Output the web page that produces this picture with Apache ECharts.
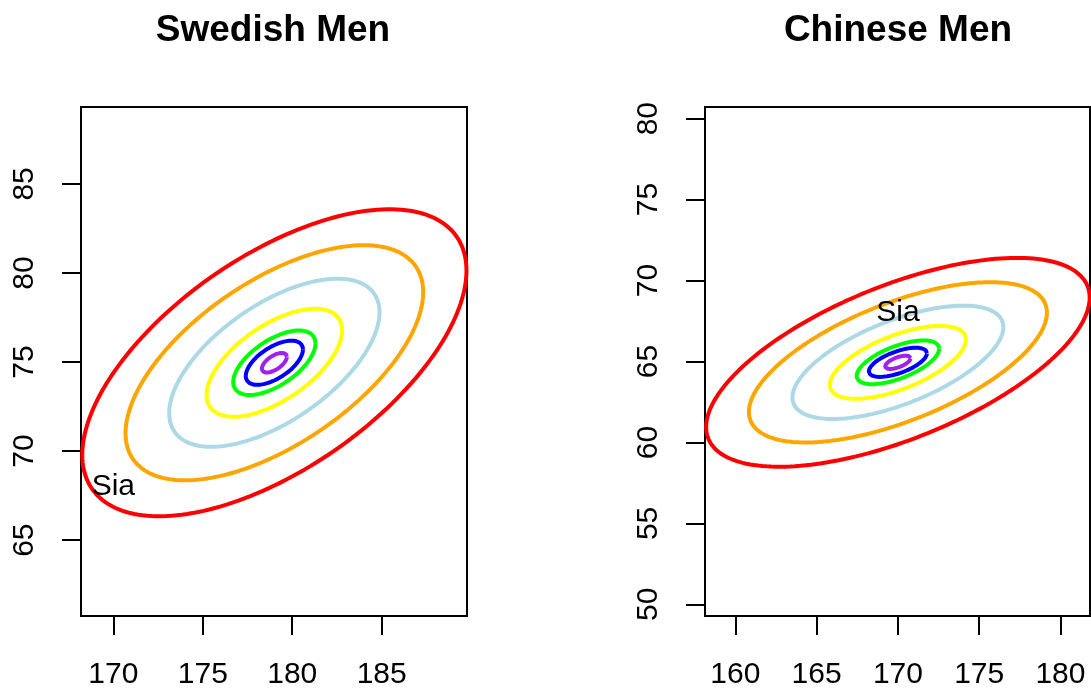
<!DOCTYPE html>
<html><head><meta charset="utf-8">
<script src="https://cdn.jsdelivr.net/npm/echarts@6/dist/echarts.min.js"></script>
<style>html,body{margin:0;padding:0;background:#fff}#c{width:1091px;height:690px}</style>
</head><body><div id="c"></div><script>
// ---- data ----
const panelTitles = ['Swedish Men', 'Chinese Men'];
const contourColors = ['#FF0000', '#FFA500', '#ADD8E6', '#FFFF00', '#00FF00', '#0000FF', '#A020F0'];

// Swedish men: centre (height, weight), half-extents of each contour, correlation
const swedishCentre = [179.0, 74.96];
const swedishHalfX = [10.74, 8.32, 5.88, 3.79, 2.30, 1.60, 0.70];
const swedishHalfY = [8.62, 6.60, 4.72, 3.03, 1.81, 1.24, 0.55];
const swedishRho = 0.6;

// Chinese men
const chineseCentre = [170.0, 64.95];
const chineseHalfX = [11.8, 9.17, 6.49, 4.19, 2.54, 1.79, 0.79];
const chineseHalfY = [6.45, 4.95, 3.50, 2.25, 1.35, 0.90, 0.41];
const chineseRho = 0.62;

// annotation
const labelText = 'Sia';
const swedishLabelPos = [170, 68];
const chineseLabelPos = [170, 68];

// axis ranges and ticks
const swedishXRange = [168.19, 189.77];
const swedishYRange = [60.74, 89.32];
const chineseXRange = [158.13, 181.82];
const chineseYRange = [49.28, 80.72];
const swedishXTicks = [170, 175, 180, 185];
const swedishYTicks = [65, 70, 75, 80, 85];
const chineseXTicks = [160, 165, 170, 175, 180];
const chineseYTicks = [50, 55, 60, 65, 70, 75, 80];

// ---- build ellipse outlines from centre / half-extents / correlation ----
function ellipse(c, hx, hy, rho) {
  const pts = [];
  const n = 200;
  const s = Math.sqrt(1 - rho * rho);
  for (let i = 0; i <= n; i++) {
    const t = 2 * Math.PI * i / n;
    pts.push([c[0] + hx * Math.cos(t), c[1] + hy * (rho * Math.cos(t) + s * Math.sin(t))]);
  }
  return pts;
}

const FONT = 'Liberation Sans, Arial, Helvetica, sans-serif';

function xAxisFor(idx, range, ticks) {
  return {
    type: 'value', gridIndex: idx, min: range[0], max: range[1],
    axisLine: { show: false },
    splitLine: { show: false },
    axisTick: { show: true, length: 19, customValues: ticks, lineStyle: { color: '#000', width: 2 } },
    axisLabel: { show: true, customValues: ticks, margin: 59, verticalAlign: 'middle',
      fontSize: 30, fontFamily: FONT, color: '#000' }
  };
}
function yAxisFor(idx, range, ticks) {
  return {
    type: 'value', gridIndex: idx, min: range[0], max: range[1],
    axisLine: { show: false },
    splitLine: { show: false },
    axisTick: { show: true, length: 19, customValues: ticks, lineStyle: { color: '#000', width: 2 } },
    axisLabel: { show: true, customValues: ticks, rotate: 90, margin: 56, align: 'center', verticalAlign: 'middle',
      fontSize: 30, fontFamily: FONT, color: '#000' }
  };
}

const series = [];
function addPanel(idx, centre, hxs, hys, rho, labelPos) {
  hxs.forEach((hx, i) => {
    series.push({
      type: 'line', xAxisIndex: idx, yAxisIndex: idx,
      data: ellipse(centre, hx, hys[i], rho),
      showSymbol: false, symbol: 'none', smooth: false, silent: true,
      lineStyle: { color: contourColors[i], width: 4 },
      z: 10 - i
    });
  });
  series.push({
    type: 'scatter', xAxisIndex: idx, yAxisIndex: idx,
    data: [labelPos], symbolSize: 0, silent: true,
    itemStyle: { color: '#000', opacity: 1 },
    label: { show: true, position: 'inside', formatter: labelText, fontSize: 30, opacity: 1,
      fontFamily: FONT, color: '#000', textBorderWidth: 0, align: 'center', verticalAlign: 'middle' },
    z: 20
  });
}
addPanel(0, swedishCentre, swedishHalfX, swedishHalfY, swedishRho, swedishLabelPos);
addPanel(1, chineseCentre, chineseHalfX, chineseHalfY, chineseRho, chineseLabelPos);

const chart = echarts.init(document.getElementById('c'), null, { renderer: 'canvas' });
chart.setOption({
  animation: false,
  backgroundColor: '#fff',
  title: [
    { text: panelTitles[0], left: 273, top: 12, textAlign: 'center', padding: 0,
      textStyle: { fontSize: 37, fontWeight: 'bold', fontFamily: FONT, color: '#000' } },
    { text: panelTitles[1], left: 898, top: 12, textAlign: 'center', padding: 0,
      textStyle: { fontSize: 37, fontWeight: 'bold', fontFamily: FONT, color: '#000' } }
  ],
  grid: [
    { left: 81, top: 107, width: 386, height: 510, show: true, borderColor: '#000', borderWidth: 2, backgroundColor: 'transparent' },
    { left: 705, top: 107, width: 385, height: 510, show: true, borderColor: '#000', borderWidth: 2, backgroundColor: 'transparent' }
  ],
  xAxis: [xAxisFor(0, swedishXRange, swedishXTicks), xAxisFor(1, chineseXRange, chineseXTicks)],
  yAxis: [yAxisFor(0, swedishYRange, swedishYTicks), yAxisFor(1, chineseYRange, chineseYTicks)],
  series: series
});
</script></body></html>
